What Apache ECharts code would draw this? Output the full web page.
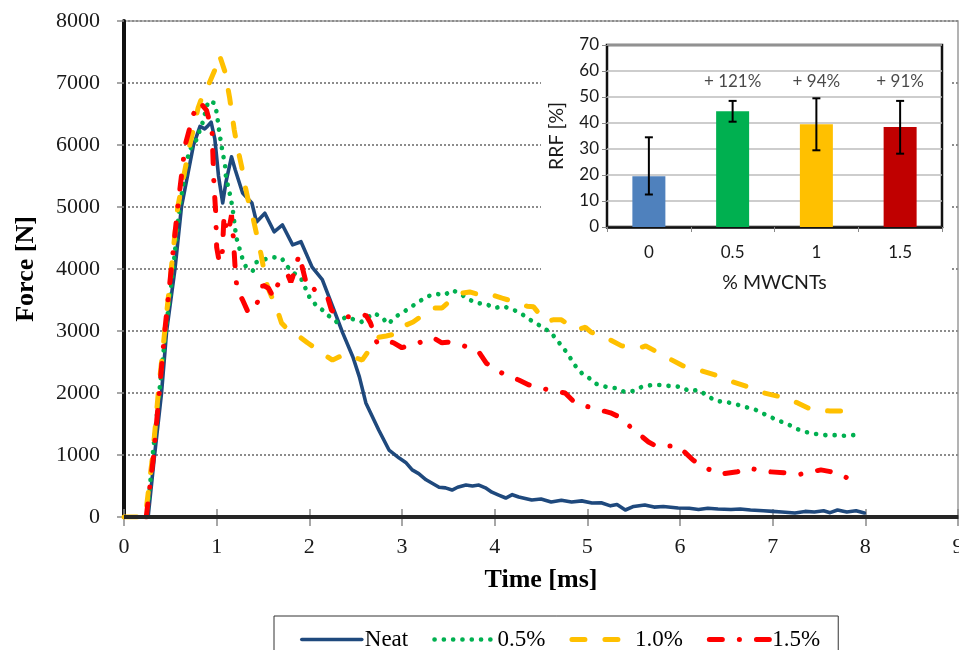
<!DOCTYPE html>
<html>
<head>
<meta charset="utf-8">
<script src="https://cdn.jsdelivr.net/npm/echarts@6/dist/echarts.min.js"></script>
<style>
html,body{margin:0;padding:0;background:#fff;}
#c{width:959px;height:650px;}
</style>
</head>
<body>
<div id="c"></div>
<script>
// ---------- main chart data: [time ms, force N] ----------
const seriesNames = ['Neat', '0.5%', '1.0%', '1.5%'];

const neat = [[0.26,0],[0.33,1000],[0.405,2000],[0.46,3000],[0.55,4000],[0.62,5000],[0.75,6000],[0.82,6300],[0.87,6260],[0.9,6300],[0.94,6370],[0.98,6100],[1.02,5500],[1.065,5065],[1.1,5400],[1.16,5810],[1.2,5600],[1.28,5225],[1.38,5065],[1.43,4760],[1.52,4900],[1.62,4600],[1.71,4710],[1.82,4390],[1.91,4440],[2.03,4030],[2.14,3830],[2.25,3400],[2.36,2970],[2.47,2580],[2.54,2260],[2.61,1840],[2.75,1400],[2.86,1080],[2.97,950],[3.04,880],[3.11,760],[3.18,700],[3.26,600],[3.33,540],[3.4,480],[3.47,470],[3.54,435],[3.6,480],[3.69,515],[3.76,500],[3.83,515],[3.9,470],[3.97,400],[4.05,350],[4.12,306],[4.19,360],[4.26,323],[4.33,300],[4.4,274],[4.5,290],[4.61,242],[4.72,270],[4.83,242],[4.94,260],[5.05,226],[5.15,230],[5.25,180],[5.32,200],[5.41,113],[5.5,170],[5.62,194],[5.72,160],[5.82,170],[5.98,145],[6.1,140],[6.2,120],[6.3,140],[6.41,129],[6.55,120],[6.65,130],[6.76,113],[6.9,100],[7.0,90],[7.1,80],[7.24,65],[7.35,90],[7.45,80],[7.55,100],[7.62,70],[7.7,113],[7.8,80],[7.9,100],[7.99,65]];

const pct05 = [[0.25,0],[0.31,1000],[0.38,2000],[0.45,3000],[0.53,4000],[0.6,5000],[0.7,5900],[0.78,6080],[0.85,6370],[0.91,6710],[0.97,6680],[1.0,6530],[1.03,6190],[1.06,5920],[1.09,5680],[1.1,5480],[1.14,5225],[1.17,5000],[1.21,4520],[1.25,4310],[1.28,4160],[1.32,4020],[1.39,3970],[1.43,4110],[1.59,4190],[1.7,4180],[1.75,4060],[1.82,3950],[1.91,3850],[2.0,3550],[2.07,3420],[2.14,3340],[2.22,3230],[2.3,3140],[2.4,3230],[2.47,3190],[2.56,3145],[2.7,3290],[2.79,3210],[2.85,3110],[2.93,3230],[3.02,3310],[3.1,3390],[3.19,3480],[3.28,3560],[3.36,3600],[3.46,3580],[3.54,3660],[3.62,3610],[3.71,3520],[3.8,3450],[3.9,3440],[4.0,3370],[4.09,3400],[4.19,3350],[4.28,3290],[4.35,3210],[4.44,3130],[4.53,3050],[4.61,2970],[4.68,2840],[4.75,2710],[4.81,2580],[4.87,2440],[4.94,2320],[5.02,2240],[5.1,2145],[5.2,2100],[5.3,2080],[5.4,2020],[5.49,2030],[5.59,2100],[5.7,2130],[5.8,2130],[5.9,2110],[6.01,2100],[6.1,2030],[6.2,2050],[6.3,1950],[6.39,1870],[6.5,1855],[6.6,1820],[6.7,1775],[6.8,1740],[6.88,1680],[6.98,1610],[7.07,1550],[7.16,1500],[7.26,1420],[7.36,1370],[7.46,1340],[7.57,1320],[7.67,1320],[7.77,1310],[7.87,1320],[7.96,1260]];

const pct10 = [[0,0],[0.23,0],[0.31,1000],[0.37,2000],[0.44,3000],[0.51,4000],[0.58,5000],[0.71,6000],[0.8,6600],[0.87,6890],[0.92,7000],[0.98,7210],[1.03,7450],[1.09,7180],[1.14,6760],[1.19,6240],[1.23,5920],[1.27,5650],[1.3,5390],[1.34,5110],[1.39,4840],[1.44,4500],[1.48,4230],[1.52,3900],[1.55,3710],[1.6,3530],[1.66,3310],[1.7,3130],[1.77,3020],[1.84,2940],[1.91,2890],[1.98,2810],[2.06,2730],[2.13,2660],[2.2,2580],[2.25,2530],[2.33,2590],[2.41,2630],[2.48,2580],[2.57,2530],[2.64,2680],[2.7,2810],[2.75,2900],[2.83,2920],[2.92,2950],[3.0,2980],[3.05,3100],[3.12,3145],[3.2,3230],[3.27,3310],[3.34,3370],[3.43,3370],[3.5,3460],[3.56,3550],[3.65,3610],[3.73,3630],[3.82,3590],[3.91,3560],[3.98,3580],[4.08,3530],[4.17,3490],[4.26,3450],[4.35,3400],[4.42,3390],[4.49,3260],[4.55,3145],[4.63,3180],[4.72,3180],[4.8,3100],[4.88,3020],[4.98,3060],[5.04,2980],[5.13,2930],[5.23,2870],[5.37,2760],[5.47,2740],[5.57,2730],[5.63,2760],[5.73,2680],[5.89,2550],[6.03,2440],[6.13,2400],[6.23,2360],[6.38,2290],[6.57,2180],[6.73,2100],[6.91,2000],[7.08,1940],[7.27,1840],[7.43,1725],[7.62,1710],[7.8,1710]];

const pct15 = [[0.24,0],[0.32,1000],[0.38,2000],[0.44,3000],[0.51,4000],[0.58,5000],[0.66,6000],[0.75,6500],[0.82,6690],[0.89,6560],[0.95,6240],[0.97,5390],[0.99,4900],[1.0,4350],[1.03,4100],[1.06,4250],[1.08,4870],[1.11,4580],[1.14,4700],[1.16,4870],[1.18,4500],[1.2,4000],[1.22,3660],[1.28,3500],[1.34,3300],[1.38,3310],[1.43,3420],[1.5,3740],[1.56,3690],[1.61,3550],[1.69,3870],[1.77,3900],[1.8,3790],[1.82,3870],[1.89,4230],[1.95,3870],[1.98,3690],[2.02,3710],[2.09,3630],[2.2,3530],[2.24,3330],[2.4,3230],[2.57,3230],[2.61,3260],[2.66,3130],[2.73,2810],[2.82,2850],[2.91,2810],[3.0,2730],[3.1,2780],[3.18,2810],[3.34,2890],[3.43,2810],[3.49,2820],[3.65,2770],[3.75,2720],[3.83,2660],[3.91,2480],[4.0,2400],[4.08,2320],[4.26,2210],[4.37,2130],[4.58,2050],[4.76,2000],[4.87,1840],[5.05,1760],[5.25,1680],[5.35,1610],[5.49,1420],[5.66,1210],[5.74,1145],[5.98,1145],[6.14,920],[6.25,810],[6.43,690],[6.62,730],[6.73,790],[6.96,730],[7.16,710],[7.3,690],[7.52,760],[7.7,710],[7.83,610]];

// ---------- inset data ----------
const rrfCats = ['0', '0.5', '1', '1.5'];
const rrfMean = [19.5, 44.5, 39.5, 38.5];
const rrfLow = [12.5, 40.5, 29.5, 28.2];
const rrfHigh = [34.5, 48.5, 49.5, 48.5];
const rrfNotes = ['', '+ 121%', '+ 94%', '+ 91%'];

// ---------- styling ----------
const colors = ['#1F497D', '#00B050', '#FFC000', '#FF0000'];
const barColors = ['#4F81BD', '#00B050', '#FFC000', '#C00000'];
const NOTE_LEVEL = 55.8;
const serif = 'Liberation Serif';
const sans = 'Lato';

const chart = echarts.init(document.getElementById('c'), null, {renderer: 'canvas'});

const lineStyles = [
  {color: colors[0], width: 3.6, type: 'solid', cap: 'round', join: 'round'},
  {color: colors[1], width: 4.6, type: [0.1, 9.2], cap: 'round'},
  {color: colors[2], width: 5, type: [13, 20], cap: 'round'},
  {color: colors[3], width: 5, type: [13, 17, 0.1, 17], cap: 'round'}
];
const dataSets = [neat, pct05, pct10, pct15];

const mainSeries = dataSets.map((d, i) => {
  const s = {
    name: seriesNames[i],
    type: 'line',
    xAxisIndex: 0,
    yAxisIndex: 0,
    data: d,
    symbol: 'none',
    showSymbol: false,
    smooth: false,
    color: colors[i],
    lineStyle: lineStyles[i],
    z: 2,
    animation: false
  };
  if (i === 0) {
    s.markLine = {
      silent: true,
      symbol: ['none', 'none'],
      label: {show: false},
      lineStyle: {color: '#262626', width: 4, type: 'solid'},
      data: [{yAxis: 0}],
      animation: false
    };
  }
  return s;
});

const option = {
  backgroundColor: '#ffffff',
  animation: false,
  grid: [
    {left: 124, right: 1, top: 21, bottom: 133, outerBoundsMode: 'none',
     show: true, borderColor: '#9a9a9a', borderWidth: 1.5, backgroundColor: 'transparent'},
    {left: 607, top: 45, width: 335, height: 182, outerBoundsMode: 'none',
     show: true, borderColor: '#111', borderWidth: 2.5, backgroundColor: '#fff', z: 4}
  ],
  graphic: [{
    type: 'rect', z: 3, silent: true,
    shape: {x: 541, y: 24, width: 411, height: 274},
    style: {fill: '#ffffff'}
  }],
  legend: {
    data: seriesNames,
    left: 274, top: 616,
    itemWidth: 60, itemHeight: 14, itemGap: 24,
    padding: [12, 18, 30, 26],
    borderColor: '#333', borderWidth: 1,
    itemStyle: {opacity: 0, borderWidth: 0},
    lineStyle: {width: 'inherit'},
    textStyle: {fontFamily: serif, fontSize: 23, color: '#000', padding: [0, 0, 0, -2]}
  },
  xAxis: [
    {type: 'value', gridIndex: 0, min: 0, max: 9, interval: 1, position: 'bottom', offset: -8,
     axisLine: {show: false},
     axisTick: {show: true, length: 17, lineStyle: {color: '#8a8a8a', width: 1.5}},
     axisLabel: {margin: 27, fontFamily: serif, fontSize: 22, color: '#1a1a1a', formatter: v => String(v)},
     splitLine: {show: false},
     name: 'Time [ms]', nameLocation: 'middle', nameGap: 58,
     nameTextStyle: {fontFamily: serif, fontSize: 26, fontWeight: 'bold', color: '#000'}},
    {type: 'value', gridIndex: 0, min: 0, max: 9, position: 'top',
     axisLine: {show: true, lineStyle: {color: '#000', width: 4}},
     axisTick: {show: false}, axisLabel: {show: false}, splitLine: {show: false}},
    {type: 'category', gridIndex: 1, data: rrfCats, position: 'bottom', z: 4,
     axisLine: {show: true, lineStyle: {color: '#111', width: 2.5}},
     axisTick: {show: true, alignWithLabel: false, length: 5, lineStyle: {color: '#888'}},
     axisLabel: {margin: 17, fontFamily: sans, fontSize: 17, color: '#1a1a1a'},
     name: '% MWCNTs', nameLocation: 'middle', nameGap: 46,
     nameTextStyle: {fontFamily: sans, fontSize: 19.5, color: '#1a1a1a'}}
  ],
  yAxis: [
    {type: 'value', gridIndex: 0, min: 0, max: 8000, interval: 1000, position: 'left',
     axisLine: {show: true, lineStyle: {color: '#111', width: 4}},
     axisTick: {show: true, length: 7, lineStyle: {color: '#8a8a8a', width: 1.5}},
     axisLabel: {margin: 24, fontFamily: serif, fontSize: 22, color: '#1a1a1a', formatter: v => String(v)},
     splitLine: {show: true, lineStyle: {color: '#8c8c8c', width: 2, type: [2, 2]}},
     name: 'Force [N]', nameLocation: 'middle', nameGap: 85, nameRotate: 90,
     nameTextStyle: {fontFamily: serif, fontSize: 26, fontWeight: 'bold', color: '#000'}},
    {type: 'value', gridIndex: 0, min: 0, max: 8000, position: 'right',
     axisLine: {show: false}, axisTick: {show: false}, axisLabel: {show: false}, splitLine: {show: false}},
    {type: 'value', gridIndex: 1, min: 0, max: 70, interval: 10, position: 'left', z: 4,
     axisLine: {show: false},
     axisTick: {show: true, length: 5, lineStyle: {color: '#888'}},
     axisLabel: {margin: 8, fontFamily: sans, fontSize: 17, color: '#1a1a1a'},
     splitLine: {show: true, lineStyle: {color: '#bdbdbd', width: 1.5, type: 'solid'}},
     name: 'RRF [%]', nameLocation: 'middle', nameGap: 40, nameRotate: 90,
     nameTextStyle: {fontFamily: sans, fontSize: 19.5, color: '#1a1a1a'}}
  ],
  series: mainSeries.concat([
    {type: 'bar', xAxisIndex: 2, yAxisIndex: 2, z: 5, barWidth: 33,
     data: rrfMean.map((v, i) => ({value: v, itemStyle: {color: barColors[i]}})),
     animation: false},
    {type: 'custom', xAxisIndex: 2, yAxisIndex: 2, z: 6,
     data: rrfCats.map((c, i) => [i, rrfLow[i], rrfHigh[i]]),
     renderItem: function (params, api) {
       const x = api.value(0);
       const lo = api.coord([x, api.value(1)]);
       const hi = api.coord([x, api.value(2)]);
       const hw = 4;
       const st = {stroke: '#000', lineWidth: 2};
       return {type: 'group', children: [
         {type: 'line', shape: {x1: lo[0], y1: lo[1], x2: hi[0], y2: hi[1]}, style: st},
         {type: 'line', shape: {x1: lo[0] - hw, y1: lo[1], x2: lo[0] + hw, y2: lo[1]}, style: st},
         {type: 'line', shape: {x1: hi[0] - hw, y1: hi[1], x2: hi[0] + hw, y2: hi[1]}, style: st}
       ]};
     },
     animation: false},
    {type: 'scatter', xAxisIndex: 2, yAxisIndex: 2, z: 6, symbolSize: 0, silent: true,
     data: rrfCats.map((c, i) => [i, NOTE_LEVEL]),
     label: {show: true, position: 'inside', fontFamily: sans, fontSize: 17, color: '#1a1a1a',
             formatter: p => rrfNotes[p.dataIndex]},
     animation: false}
  ])
};

chart.setOption(option);
</script>
</body>
</html>
